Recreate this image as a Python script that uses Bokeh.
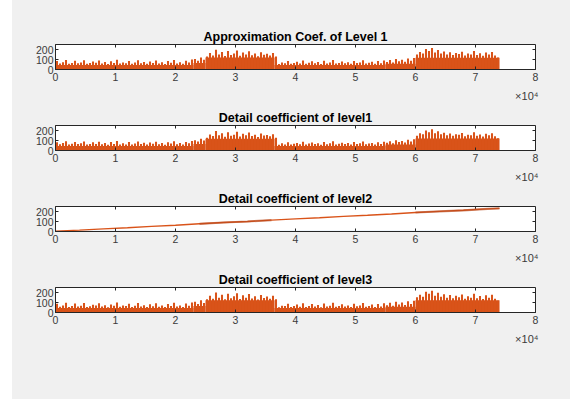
import math
from bokeh.plotting import figure
from bokeh.models import Range1d, FixedTicker, Title, Spacer
from bokeh.layouts import row, column
from bokeh.embed import file_html
from bokeh.resources import INLINE

# ---------------- data ----------------
step = 500  # samples per spike
x_ticks = [0, 10000, 20000, 30000, 40000, 50000, 60000, 70000, 80000]
x_tick_labels = ["0", "1", "2", "3", "4", "5", "6", "7", "8"]
y_ticks = [0, 100, 200]
titles = ["Approximation Coef. of Level 1", "Detail coefficient of level1",
          "Detail coefficient of level2", "Detail coefficient of level3"]

# dense (solid) level of each signal section: start, end, level
dense_start = [0, 23000, 25000, 36500, 55000, 60000]
dense_end = [23000, 25000, 36500, 55000, 60000, 74000]
dense_approx1 = [45, 65, 120, 45, 58, 118]
dense_detail1 = [46, 66, 118, 46, 60, 120]
dense_detail3 = [44, 64, 122, 44, 57, 122]

# spike peaks every 500 samples
approx1 = [85, 60, 72, 95, 58, 66, 88, 62, 70, 92,
           57, 64, 80, 68, 90, 61, 74, 55, 83, 66,
           97, 59, 71, 63, 86, 58, 69, 93, 62, 75,
           57, 81, 65, 90, 60, 72, 56, 84, 67, 95,
           61, 73, 58, 88, 70, 99,
           105, 88, 120, 98, 130,
           165, 140, 198, 150, 175, 135, 185, 145, 160, 190,
           138, 170, 150, 182, 142, 160, 133, 172, 148, 158, 140, 165,
           130,
           55, 70, 62, 85, 58, 66, 78, 60, 90, 57,
           68, 82, 63, 74, 55, 88, 61, 70, 95, 59,
           66, 80, 62, 73, 57, 86, 64, 71, 92, 60,
           68, 77, 58, 84, 63, 90,
           75, 95, 70, 105, 82, 98, 78, 110, 88, 115,
           150, 175, 160, 205, 185, 215, 170, 195, 160, 180,
           150, 172, 145, 165, 155, 178, 140, 160, 150, 185,
           145, 162, 138, 170, 150, 175, 140, 120]

detail1 = [82, 63, 75, 92, 60, 68, 86, 64, 72, 90,
           59, 66, 82, 65, 88, 63, 76, 57, 85, 64,
           94, 61, 73, 60, 84, 60, 71, 90, 64, 77,
           59, 79, 67, 88, 62, 74, 58, 82, 69, 92,
           63, 75, 60, 86, 72, 96,
           102, 90, 118, 100, 128,
           160, 145, 195, 152, 172, 138, 182, 148, 158, 188,
           140, 168, 152, 180, 145, 158, 135, 170, 150, 156, 142, 162,
           128,
           58, 72, 60, 83, 60, 68, 76, 62, 88, 59,
           70, 80, 65, 72, 57, 86, 63, 72, 92, 61,
           68, 78, 64, 75, 59, 84, 66, 73, 90, 62,
           70, 75, 60, 82, 65, 88,
           77, 93, 72, 102, 84, 96, 80, 108, 90, 112,
           148, 172, 162, 200, 182, 212, 172, 192, 162, 178,
           152, 170, 147, 163, 157, 176, 142, 158, 152, 182,
           147, 160, 140, 168, 152, 172, 142, 122]

detail3 = [88, 58, 70, 97, 56, 64, 90, 60, 68, 94,
           55, 62, 78, 70, 92, 59, 72, 53, 81, 68,
           99, 57, 69, 65, 88, 56, 67, 95, 60, 73,
           55, 83, 63, 92, 58, 70, 54, 86, 65, 97,
           59, 71, 56, 90, 68, 101,
           108, 86, 122, 96, 132,
           168, 138, 200, 148, 178, 132, 188, 142, 162, 192,
           136, 172, 148, 185, 140, 162, 131, 175, 146, 160, 138, 168,
           132,
           53, 68, 64, 87, 56, 64, 80, 58, 92, 55,
           66, 84, 61, 76, 53, 90, 59, 68, 97, 57,
           64, 82, 60, 71, 55, 88, 62, 69, 94, 58,
           66, 79, 56, 86, 61, 92,
           73, 97, 68, 107, 80, 100, 76, 112, 86, 118,
           152, 178, 158, 208, 188, 218, 168, 198, 158, 182,
           148, 175, 143, 168, 153, 180, 138, 162, 148, 188,
           143, 165, 136, 172, 148, 178, 138, 118]

lvl2_x = [0, 4000, 8000, 12000, 16000, 20000, 24000, 28000, 32000, 36000,
          40000, 44000, 48000, 52000, 56000, 60000, 64000, 68000, 72000, 74000]
lvl2_y = [4, 14, 26, 37, 51, 62, 77, 90, 100, 114,
          126, 137, 151, 162, 175, 190, 201, 212, 226, 231]
lvl2_base_x = [0, 74000]
lvl2_base_y = [2, 2]
busy_ranges = [(24000, 36000), (60000, 74000)]

ORANGE = "#D95319"
BLUE = "#0072BD"
BG = "#F0F0F0"
FONT = "Liberation Sans"
AX = "#262626"


def make_panel(title, height, top, bottom):
    p = figure(width=558, height=height, output_backend="svg", toolbar_location=None,
               x_range=Range1d(0, 80000), y_range=Range1d(0, 250),
               min_border_left=43, min_border_right=35,
               min_border_top=top, min_border_bottom=bottom,
               background_fill_color="white", border_fill_color=BG,
               outline_line_color=AX, outline_line_width=1)
    p.grid.visible = False
    p.title.text = title
    p.title.align = "center"
    p.title.text_font = FONT
    p.title.text_font_style = "bold"
    p.title.text_font_size = "12.5px"
    p.title.text_color = "#000000"
    p.title.standoff = 2
    for ax in p.xaxis:
        ax.ticker = FixedTicker(ticks=x_ticks)
        ax.major_label_overrides = {t: l for t, l in zip(x_ticks, x_tick_labels)}
    for ax in p.yaxis:
        ax.ticker = FixedTicker(ticks=y_ticks)
    for ax in p.xaxis + p.yaxis:
        ax.major_tick_in = 3
        ax.major_tick_out = 0
        ax.minor_tick_line_color = None
        ax.axis_line_color = AX
        ax.major_tick_line_color = AX
        ax.major_label_text_font = FONT
        ax.major_label_text_font_size = "10.5px"
        ax.major_label_text_color = "#3a3a3a"
        ax.major_label_standoff = 3
    p.yaxis.major_label_standoff = 2
    # inward ticks on the top and right edges of the box
    p.ray(x=x_ticks, y=[250] * len(x_ticks), length=3, length_units="screen",
          angle=-math.pi / 2, line_color=AX, line_width=1)
    p.ray(x=[80000] * len(y_ticks), y=y_ticks, length=3, length_units="screen",
          angle=math.pi, line_color=AX, line_width=1)
    p.add_layout(Title(text="×10⁴", align="right", text_font=FONT, text_font_size="11px",
                       text_font_style="normal", text_color="#3a3a3a", standoff=8,
                       offset=-3), "below")
    return p


def signal(p, dense, peaks):
    p.quad(left=dense_start, right=dense_end, bottom=0, top=dense,
           fill_color=ORANGE, line_color=None)
    xs = [step / 2 + step * i for i in range(len(peaks))]
    p.vbar(x=xs, width=340, top=peaks, bottom=0, fill_color=ORANGE,
           line_color=None)


p1 = make_panel(titles[0], 105, 44, 36)
signal(p1, dense_approx1, approx1)
p2 = make_panel(titles[1], 81, 20, 36)
signal(p2, dense_detail1, detail1)
p3 = make_panel(titles[2], 81, 20, 36)
p3.line(lvl2_base_x, lvl2_base_y, line_color=BLUE, line_width=1, line_alpha=0.3)
p3.line(lvl2_x, lvl2_y, line_color=ORANGE, line_width=1.4)
for a, b in busy_ranges:
    bx = [x for x in lvl2_x if a <= x <= b]
    by = [y for x, y in zip(lvl2_x, lvl2_y) if a <= x <= b]
    p3.line(bx, by, line_color="#B84A1E", line_width=2.2, line_alpha=0.6)
p4 = make_panel(titles[3], 132, 20, 87)
signal(p4, dense_detail3, detail3)

col = column(p1, p2, p3, p4, spacing=0, styles={"background-color": BG})
layout = row(Spacer(width=12, height=399, styles={"background-color": "white"}), col,
             spacing=0)
open("out.html", "w").write(file_html(layout, INLINE))
